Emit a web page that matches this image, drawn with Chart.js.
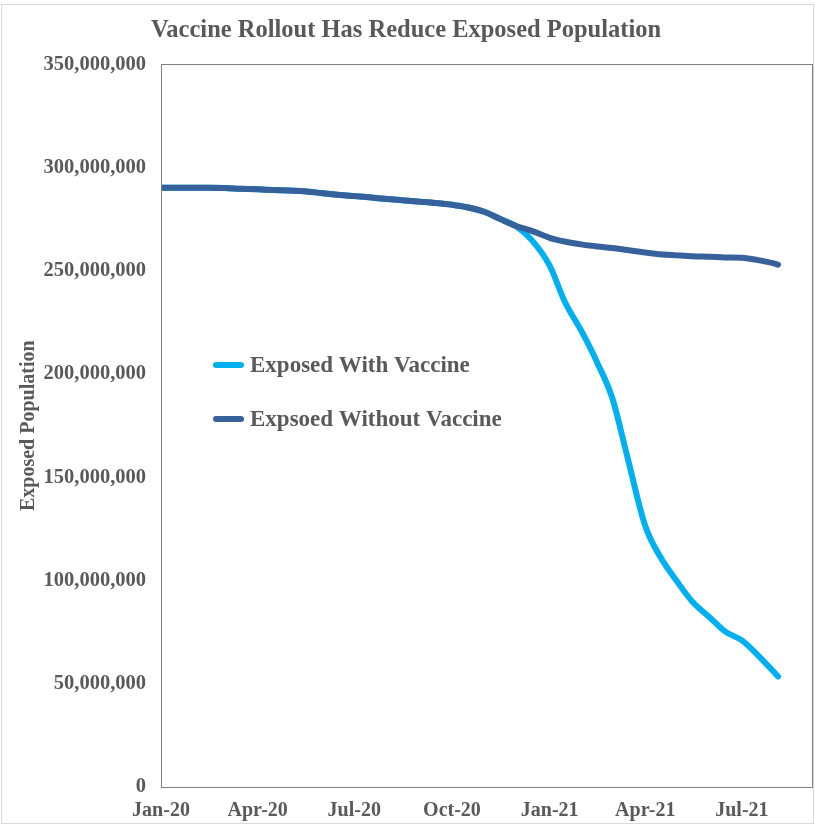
<!DOCTYPE html>
<html>
<head>
<meta charset="utf-8">
<script src="https://cdn.jsdelivr.net/npm/chart.js@4/dist/chart.umd.min.js"></script>
<style>
html,body{margin:0;padding:0;background:#ffffff;}
#wrap{width:815px;height:825px;position:relative;}
</style>
</head>
<body>
<div id="wrap"><canvas id="c" width="815" height="825"></canvas></div>
<script>
// ---- data ----
const dates = [
  '2020-01-01','2020-01-15','2020-02-01','2020-02-15','2020-03-01','2020-03-15',
  '2020-04-01','2020-04-15','2020-05-01','2020-05-15','2020-06-01','2020-06-15',
  '2020-07-01','2020-07-15','2020-08-01','2020-08-15','2020-09-01','2020-09-15',
  '2020-10-01','2020-10-15','2020-11-01','2020-11-15','2020-12-01','2020-12-15',
  '2021-01-01','2021-01-15','2021-02-01','2021-02-15','2021-03-01','2021-03-15',
  '2021-04-01','2021-04-15','2021-05-01','2021-05-15','2021-06-01','2021-06-15',
  '2021-07-01','2021-07-15','2021-08-01','2021-08-04'
];
const withoutVaccine = [
  290.2e6,290.2e6,290.2e6,290.2e6,290.1e6,289.8e6,
  289.5e6,289.2e6,288.9e6,288.6e6,287.6e6,286.9e6,
  286.2e6,285.6e6,284.8e6,284.2e6,283.5e6,282.9e6,
  282.0e6,280.8e6,278.5e6,275.2e6,271.6e6,269.4e6,
  266.0e6,264.2e6,262.7e6,261.8e6,261.1e6,260.1e6,
  258.9e6,258.0e6,257.5e6,257.1e6,256.8e6,256.5e6,
  256.3e6,255.3e6,253.5e6,253.0e6
];
const withVaccine = [
  290.2e6,290.2e6,290.2e6,290.2e6,290.1e6,289.8e6,
  289.5e6,289.2e6,288.9e6,288.6e6,287.6e6,286.9e6,
  286.2e6,285.6e6,284.8e6,284.2e6,283.5e6,282.9e6,
  282.0e6,280.8e6,278.5e6,275.2e6,271.4e6,265.0e6,
  252.5e6,235.3e6,219.8e6,205.3e6,188.3e6,160.2e6,
  126.4e6,111.6e6,99.5e6,90.0e6,82.0e6,75.4e6,
  71.0e6,64.4e6,55.2e6,53.5e6
];
const seriesNames = ['Exposed With Vaccine','Expsoed Without Vaccine'];
const xTickDates = ['2020-01-01','2020-04-01','2020-07-01','2020-10-01','2021-01-01','2021-04-01','2021-07-01'];
const xTickLabels = ['Jan-20','Apr-20','Jul-20','Oct-20','Jan-21','Apr-21','Jul-21'];
const yTicks = [0,50e6,100e6,150e6,200e6,250e6,300e6,350e6];
const axisStartDate = '2020-01-01';
const axisEndDate = '2021-09-05';

// ---- helpers ----
const DAY = 86400000;
const dayOf = d => Math.round((Date.parse(d + 'T00:00:00Z') - Date.parse(axisStartDate + 'T00:00:00Z')) / DAY);
const xs = dates.map(dayOf);
const tickDays = xTickDates.map(dayOf);
const fmt = v => Math.round(v).toString().replace(/\B(?=(\d{3})+(?!\d))/g, ',');

const TXT = '#595959';
const FONT = "'Liberation Serif','Times New Roman',serif";
const COL_WITH = '#00B0F0';
const COL_WITHOUT = '#36619A';

const framePlugin = {
  id: 'frame',
  beforeDraw(chart) {
    const ctx = chart.ctx;
    ctx.save();
    ctx.fillStyle = '#ffffff';
    ctx.fillRect(0, 0, chart.width, chart.height);
    ctx.strokeStyle = '#d9d9d9';
    ctx.lineWidth = 1;
    ctx.strokeRect(1.5, 4.5, chart.width - 3, chart.height - 6);
    ctx.restore();
  },
  afterDatasetsDraw(chart) {
    const a = chart.chartArea, ctx = chart.ctx;
    ctx.save();
    ctx.strokeStyle = '#7f7f7f';
    ctx.lineWidth = 1;
    ctx.strokeRect(Math.round(a.left) + 0.5, Math.round(a.top) + 0.5, Math.round(a.right - a.left), Math.round(a.bottom - a.top));
    ctx.restore();
  },
  afterDraw(chart) {
    // legend inside the plot area
    const ctx = chart.ctx;
    const items = [
      {label: chart.data.datasets[0].label, color: chart.data.datasets[0].borderColor, y: 365},
      {label: chart.data.datasets[1].label, color: chart.data.datasets[1].borderColor, y: 419}
    ];
    ctx.save();
    items.forEach(it => {
      ctx.strokeStyle = it.color;
      ctx.lineWidth = 6;
      ctx.lineCap = 'round';
      ctx.beginPath();
      ctx.moveTo(216, it.y);
      ctx.lineTo(241, it.y);
      ctx.stroke();
      ctx.fillStyle = TXT;
      ctx.font = "bold 23px " + FONT;
      ctx.textBaseline = 'middle';
      ctx.textAlign = 'left';
      ctx.fillText(it.label, 250, it.y + 1);
    });
    ctx.restore();
  }
};

new Chart(document.getElementById('c'), {
  type: 'line',
  data: {
    datasets: [
      {
        label: seriesNames[0],
        data: xs.map((x, i) => ({x, y: withVaccine[i]})),
        borderColor: COL_WITH,
        borderWidth: 6,
        pointRadius: 0,
        cubicInterpolationMode: 'monotone',
        borderCapStyle: 'round',
        borderJoinStyle: 'round',
        order: 1
      },
      {
        label: seriesNames[1],
        data: xs.map((x, i) => ({x, y: withoutVaccine[i]})),
        borderColor: COL_WITHOUT,
        borderWidth: 6,
        pointRadius: 0,
        cubicInterpolationMode: 'monotone',
        borderCapStyle: 'round',
        borderJoinStyle: 'round',
        order: 0
      }
    ]
  },
  options: {
    responsive: false,
    animation: false,
    devicePixelRatio: 1,
    layout: {padding: {left: 0, right: 3, top: 0, bottom: 0}},
    plugins: {
      legend: {display: false},
      tooltip: {enabled: false},
      title: {
        display: true,
        text: 'Vaccine Rollout Has Reduce Exposed Population',
        color: TXT,
        font: {family: FONT, size: 24.5, weight: 'bold'},
        padding: {top: 16, bottom: 19}
      }
    },
    scales: {
      x: {
        type: 'linear',
        min: 0,
        max: dayOf(axisEndDate),
        grid: {display: false, drawTicks: false},
        border: {display: false},
        afterBuildTicks: s => { s.ticks = tickDays.map(v => ({value: v})); },
        afterFit: s => { s.height = 38; },
        ticks: {
          autoSkip: false,
          maxRotation: 0,
          padding: 12,
          color: TXT,
          font: {family: FONT, size: 20, weight: 'bold'},
          callback: v => { const i = tickDays.indexOf(v); return i >= 0 ? xTickLabels[i] : ''; }
        }
      },
      y: {
        min: 0,
        max: 350e6,
        grid: {display: false, drawTicks: false},
        border: {display: false},
        afterBuildTicks: s => { s.ticks = yTicks.map(v => ({value: v})); },
        afterFit: s => { s.width = 161; },
        title: {
          display: true,
          text: 'Exposed Population',
          color: TXT,
          font: {family: FONT, size: 20, weight: 'bold'},
          padding: {top: 17, bottom: 0}
        },
        ticks: {
          padding: 15,
          color: TXT,
          font: {family: FONT, size: 20.5, weight: 'bold'},
          callback: v => fmt(v)
        }
      }
    }
  },
  plugins: [framePlugin]
});
</script>
</body>
</html>
